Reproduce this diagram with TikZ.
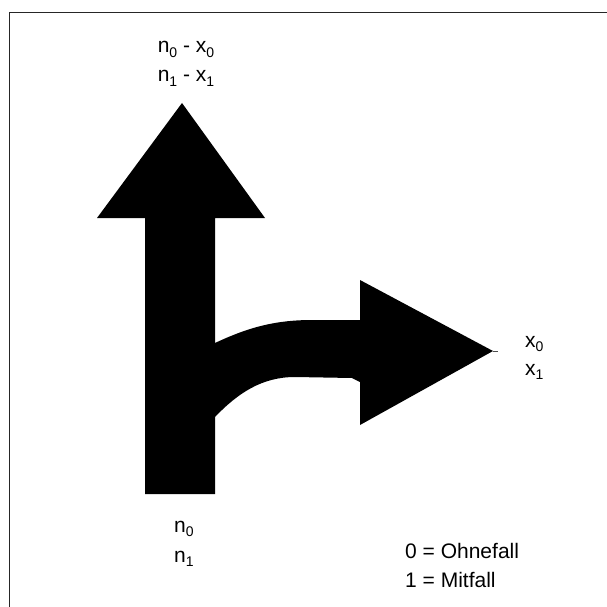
\documentclass[tikz,border=0pt]{standalone}
\usepackage{fontspec}
\setmainfont{Liberation Sans}
\newcommand{\lowidx}[1]{\raisebox{-0.22em}{\fontsize{14}{14}\selectfont #1}}
\begin{document}
\begin{tikzpicture}[x=1pt,y=-1pt,
  lbl/.style={font=\fontsize{21}{25}\selectfont, inner sep=0pt, anchor=base west}]
\useasboundingbox (0,0) rectangle (606,607);
\draw[line width=1.3pt, black!85] (9.5,12.5) rectangle (620,620);
% arrows
\fill[black] (145,494) -- (145,218) -- (97,218) -- (182,103) -- (265,218) -- (215,218)
  -- (215,343) .. controls (245,329) and (272,320) .. (312,320) -- (360,320)
  -- (360,280) -- (493,351) -- (360,425) -- (360,382) -- (352,378) -- (295,377)
  .. controls (262,377) and (238,393) .. (215,417) -- (215,494) -- cycle;
\coordinate (tip) at (493,351);
\coordinate (tipend) at (498,351);
\draw[line width=0.8pt, black!70] (tip) -- (tipend);
% labels
\node[lbl, anchor=base] (top0) at (186,53) {n\lowidx{0} - x\lowidx{0}};
\node[lbl, anchor=base] (top1) at (186,82) {n\lowidx{1} - x\lowidx{1}};
\node[lbl] (r0) at (525,347) {x\lowidx{0}};
\node[lbl] (r1) at (525,375) {x\lowidx{1}};
\node[lbl] (b0) at (174,532) {n\lowidx{0}};
\node[lbl] (b1) at (174,562) {n\lowidx{1}};
\node[lbl] (l0) at (405,558) {0 = Ohnefall};
\node[lbl] (l1) at (405,587) {1 = Mitfall};
\end{tikzpicture}
\end{document}
